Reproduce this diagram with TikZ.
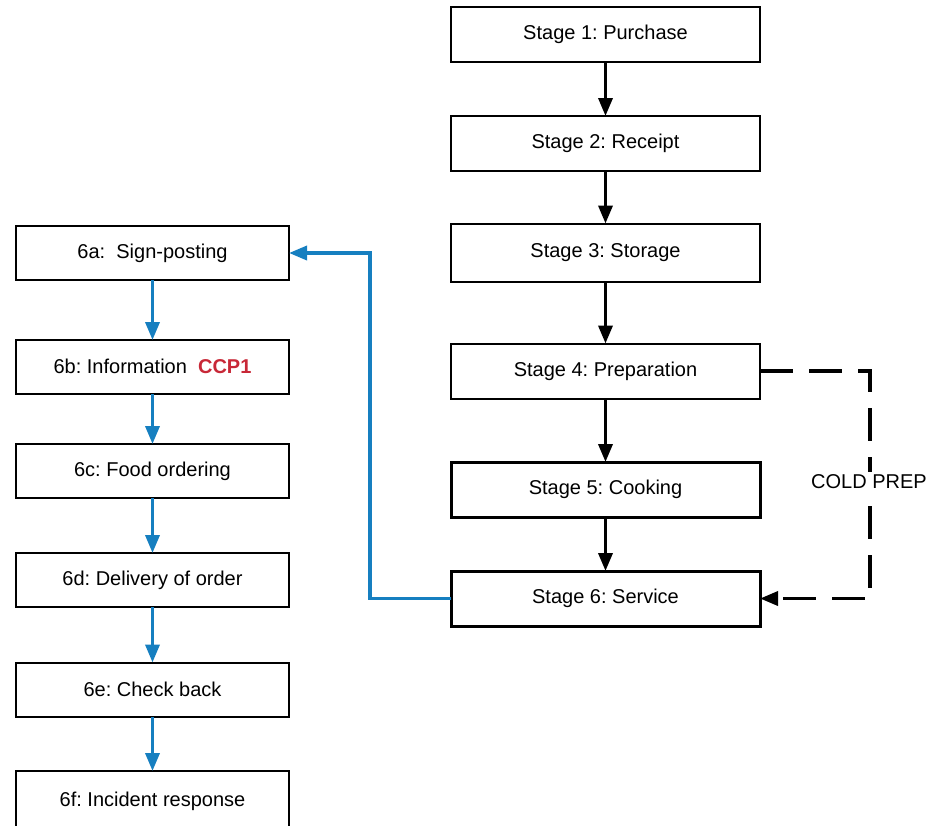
\documentclass[tikz,border=0pt]{standalone}
\usepackage{fontspec}
\setmainfont{Liberation Sans}
\frenchspacing
\usetikzlibrary{arrows.meta}
\definecolor{flowblue}{RGB}{22,127,192}
\definecolor{ccpred}{RGB}{200,40,55}
\tikzset{
  box/.style={draw=black, line width=2pt, fill=white, inner sep=0pt, outer sep=0pt,
    font=\fontsize{20}{24}\selectfont},
  rbox/.style={box, minimum width=309pt, minimum height=55pt},
  lbox/.style={box, minimum width=273pt, minimum height=54pt},
  thick box/.style={line width=3pt},
  blk/.style={draw=black, line width=3.5pt, -{Triangle[width=14pt,length=18pt]}},
  blu/.style={draw=flowblue, line width=3.5pt, -{Triangle[width=14pt,length=18pt]}},
  dsh/.style={draw=black, line width=3.5pt, dash pattern=on 33pt off 16pt, -{Triangle[width=14pt,length=18pt]}}
}
\begin{document}
\begin{tikzpicture}[x=1pt,y=-1pt]
\useasboundingbox (0,0) rectangle (928,825);
\clip (0,0) rectangle (928,825);
% right column
\node[rbox] (s1) at (605.5,34.5) {Stage 1: Purchase};
\node[rbox] (s2) at (605.5,143.5) {Stage 2: Receipt};
\node[rbox, minimum height=58pt] (s3) at (605.5,252.5) {Stage 3: Storage};
\node[rbox] (s4) at (605.5,371) {Stage 4: Preparation};
\node[rbox, thick box] (s5) at (605.5,489.5) {Stage 5: Cooking};
\node[rbox, thick box] (s6) at (605.5,598.5) {Stage 6: Service};
% left column
\node[lbox] (a) at (152.5,253) {6a:\ \ Sign-posting};
\node[lbox] (b) at (152.5,367) {\raisebox{2pt}{6b: Information\ \ \textcolor{ccpred}{\textbf{CCP1}}}};
\node[lbox] (c) at (152.5,471) {6c: Food ordering};
\node[lbox] (d) at (152.5,580) {6d: Delivery of order};
\node[lbox] (e) at (152.5,689.5) {6e: Check back};
\node[lbox, minimum height=60pt] (f) at (152.5,801) {\raisebox{2pt}{6f: Incident response}};
% black flow
\draw[blk] (s1) -- (s2);
\draw[blk] (s2) -- (s3);
\draw[blk] (s3) -- (s4);
\draw[blk] (s4) -- (s5);
\draw[blk] (s5) -- (s6);
% blue flow
\coordinate (bx) at (370,253);
\draw[blu] (s6.west) -| (bx) -- (a.east);
\draw[blu] (a) -- (b);
\draw[blu] (b) -- (c);
\draw[blu] (c) -- (d);
\draw[blu] (d) -- (e);
\draw[blu] (e) -- (f);
% cold prep
\coordinate (dx) at (870,371);
\draw[dsh] (s4.east) -- (dx) |- (s6.east);
\node[fill=white, inner sep=3pt, font=\fontsize{20}{24}\selectfont] (cp) at (869,482) {COLD PREP};
\end{tikzpicture}
\end{document}
